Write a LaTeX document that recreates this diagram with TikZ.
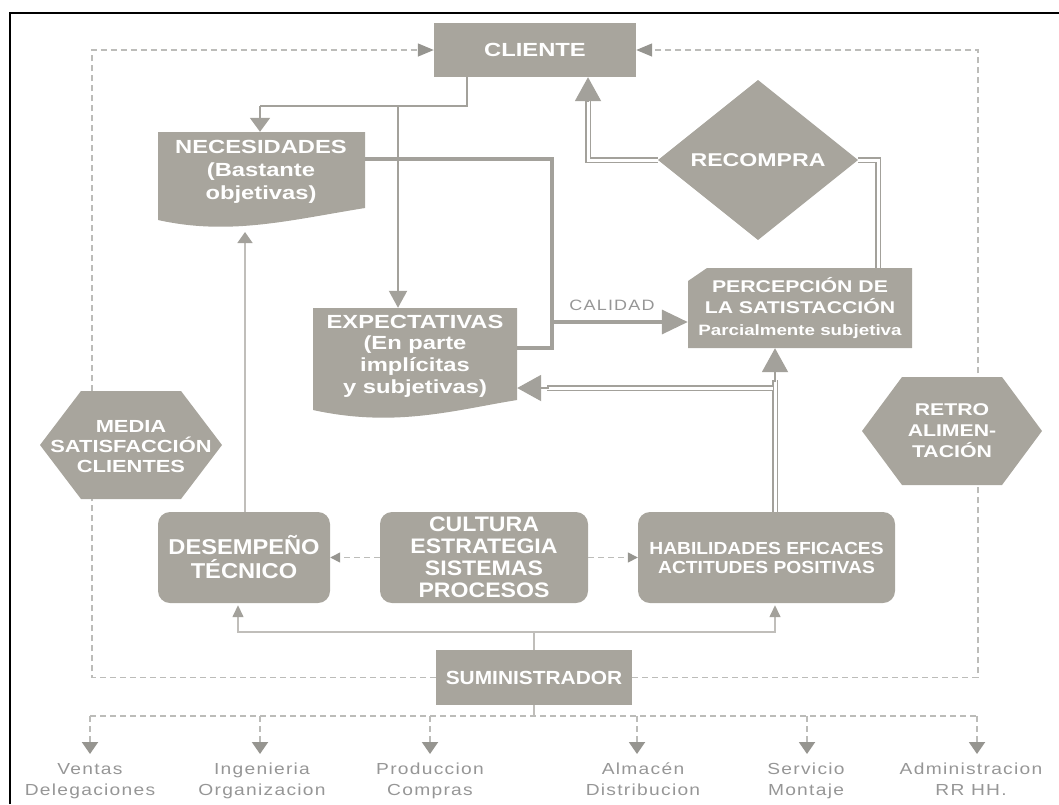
\documentclass[tikz,border=0pt]{standalone}
\usepackage{fontspec}
\setmainfont{Liberation Sans}
\newfontfamily\bfa[FakeStretch=1.25]{Liberation Sans Bold}
\newfontfamily\bfb[FakeStretch=1.1]{Liberation Sans Bold}
\newfontfamily\rga[FakeStretch=1.2,LetterSpace=8]{Liberation Sans}
\usetikzlibrary{arrows.meta,calc}
\definecolor{boxg}{RGB}{168,165,157}
\definecolor{lineg}{RGB}{163,161,155}
\definecolor{liteg}{RGB}{192,190,186}
\definecolor{dashg}{RGB}{188,188,185}
\definecolor{tipg}{RGB}{150,149,144}
\definecolor{lblg}{RGB}{150,150,150}
\newcommand\fs[2]{\fontsize{#1}{#2}\selectfont}
\begin{document}
\begin{tikzpicture}[x=1pt,y=-1pt,
  box/.style={fill=boxg, draw=none, inner sep=0pt, text=white, align=center},
  rbox/.style={box, rounded corners=12pt},
  txt/.style={text=white, align=center, inner sep=0pt},
  conn/.style={draw=lineg, line width=2pt},
  thk/.style={draw=lineg, line width=3.5pt},
  lite/.style={draw=liteg, line width=1.5pt},
  dbl/.style={draw=lineg, line width=1.2pt, double=white, double distance=3pt},
  dsh/.style={draw=dashg, line width=1.4pt, dash pattern=on 6pt off 4pt},
  tipline/.style={draw=lineg, line width=2pt, -{Triangle[width=26pt,length=24pt]}},
  lbl/.style={text=lblg, align=center, inner sep=0pt, font=\rga\fs{16}{21}}
]
\useasboundingbox (0,0) rectangle (1059,804);
% outer frame
\draw[black, line width=1.5pt] (10,804) -- (10,13) -- (1059,13);

% ---------- dashed frame corners ----------
\coordinate (f1) at (92,50);
\coordinate (f2) at (92,677.5);
\coordinate (f3) at (978,677.5);
\coordinate (f4) at (978,50);

% ---------- nodes ----------
\node[box, minimum width=202pt, minimum height=54pt, font=\bfa\fs{19}{22}] (cli) at (535,50) {CLIENTE};

\fill[boxg] (158,132) -- (365,132) -- (365,208) .. controls (290,220) and (230,236) .. (158,220) -- cycle;
\node[minimum width=207pt, minimum height=88pt, inner sep=0pt] (nec) at (261.5,176) {};
\node[txt, font=\bfa\fs{19}{23}] (necT) at (261,172) {NECESIDADES\\(Bastante\\objetivas)};

\fill[boxg] (313,308) -- (517,308) -- (517,400) .. controls (455,410) and (395,428) .. (313,410) -- cycle;
\node[minimum width=204pt, minimum height=92pt, inner sep=0pt] (exp) at (415,354) {};
\node[txt, font=\bfa\fs{19}{21.7}] (expT) at (415,356) {EXPECTATIVAS\\(En parte\\implícitas\\y subjetivas)};

\fill[boxg] (688,281) -- (707,268) -- (912,268) -- (912,348) -- (688,348) -- cycle;
\node[minimum width=224pt, minimum height=80pt, inner sep=0pt] (per) at (800,308) {};
\node[txt, font=\bfa\fs{17}{21.5}] (perT) at (800,308) {PERCEPCIÓN DE\\LA SATISTACCIÓN\\{\fs{15}{21.5}Parcialmente subjetiva}};

\fill[boxg] (658,160) -- (758,80) -- (858,160) -- (758,240) -- cycle;
\coordinate (recw) at (658,160);
\coordinate (rece) at (858,160);
\node[txt, font=\bfa\fs{18.5}{22}] (rec) at (758,160) {RECOMPRA};

\node[rbox, minimum width=172pt, minimum height=91pt, font=\bfb\fs{21.5}{24}] (des) at (244,557.5) {DESEMPEÑO\\TÉCNICO};
\node[rbox, minimum width=208pt, minimum height=91pt, font=\bfb\fs{21}{22}] (cul) at (484,557.5) {CULTURA\\ESTRATEGIA\\SISTEMAS\\PROCESOS};
\node[rbox, minimum width=257pt, minimum height=91pt, font=\bfb\fs{17.5}{19}] (hab) at (766.5,557.5) {HABILIDADES EFICACES\\ACTITUDES POSITIVAS};

\node[box, minimum width=196pt, minimum height=55pt, font=\bfb\fs{19}{22}] (sum) at (534,677.5) {SUMINISTRADOR};

% dashed frame
\draw[dsh, -{Triangle[width=13pt,length=16pt,color=tipg]}] (sum.west) -- (f2) -- (f1) -- (cli.west);
\draw[dsh, -{Triangle[width=13pt,length=16pt,color=tipg]}] (sum.east) -- (f3) -- (f4) -- (cli.east);

% hexagons
\fill[boxg] (40,445) -- (81,391) -- (181,391) -- (222,445) -- (181,499) -- (81,499) -- cycle;
\node[txt, font=\bfa\fs{17.5}{20}] (med) at (131,447) {MEDIA\\SATISFACCIÓN\\CLIENTES};
\fill[boxg] (862,431) -- (902,377) -- (1002,377) -- (1042,431) -- (1002,485) -- (902,485) -- cycle;
\node[txt, font=\bfa\fs{17}{21}] (ret) at (952,431) {RETRO\\ALIMEN-\\TACIÓN};

% ---------- connectors ----------
\coordinate (c1) at (467,106);
\coordinate (c2) at (260,106);
\coordinate (c3) at (398,106);
\draw[conn] (cli.south -| c1) -- (c1) -- (c2);
\draw[conn, -{Triangle[width=20pt,length=14pt]}] (c2) -- (nec.north -| c2);
\draw[conn, -{Triangle[width=18pt,length=17pt]}] (c3) -- (exp.north -| c3);

\coordinate (t1) at (552,159);
\coordinate (t2) at (552,348);
\coordinate (t3) at (552,322);
\draw[thk] (nec.east |- t1) -- (t1) -- (t2) -- (exp.east |- t2);
\draw[thk, -{Triangle[width=24pt,length=26pt]}] (t3) -- (per.west |- t3);
\node[text=lblg, font=\rga\fs{15}{18}] (cal) at (612,305) {CALIDAD};

\coordinate (d1) at (588,160);
\draw[dbl] (recw) -- (d1) -- ($(cli.south -| d1)+(0,23)$);
\draw[tipline] ($(cli.south -| d1)+(0,25)$) -- (cli.south -| d1);
\coordinate (d2) at (878,160);
\draw[dbl] (rece) -- (d2) -- (per.north -| d2);

\coordinate (d3) at (775,388);
\coordinate (d4) at (772.6,388);
\draw[dbl] (hab.north -| d3) -- ($(per.south -| d3)+(0,32)$);
\draw[tipline] ($(per.south -| d3)+(0,34)$) -- (per.south -| d3);
\draw[dbl] (d4) -- ($(exp.east |- d4)+(30,0)$);
\draw[tipline] ($(exp.east |- d4)+(32,0)$) -- (exp.east |- d4);

\coordinate (n1) at (245,232);
\draw[lite, -{Triangle[width=15pt,length=11pt,color=lineg]}] (des.north -| n1) -- (n1);

\draw[dsh, -{Triangle[width=10pt,length=10pt,color=tipg]}] (cul.west) -- (des.east);
\draw[dsh, -{Triangle[width=10pt,length=10pt,color=tipg]}] (cul.east) -- (hab.west);

\coordinate (s1) at (534,632);
\coordinate (s2) at (238,632);
\coordinate (s3) at (775,632);
\draw[lite] (sum.north) -- (s1);
\draw[lite, -{Triangle[width=11pt,length=12pt,color=lineg]}] (s1) -- (s2) -- ($(des.south -| s2)+(0,2)$);
\draw[lite, -{Triangle[width=11pt,length=12pt,color=lineg]}] (s1) -- (s3) -- ($(hab.south -| s3)+(0,2)$);

% ---------- bottom departments ----------
\node[lbl, anchor=north] (l1) at (90,763) {Ventas\\Delegaciones};
\node[lbl, anchor=north] (l2) at (262,763) {Ingenieria\\Organizacion};
\node[lbl, anchor=north] (l3) at (430,763) {Produccion\\Compras};
\node[lbl, anchor=north] (l4) at (643,763) {Almacén\\Distribucion};
\node[lbl, anchor=north] (l5) at (806,763) {Servicio\\Montaje};
\node[lbl, anchor=north] (l6) at (971,763) {Administracion\\RR HH.};

\coordinate (b0) at (534,716);
\coordinate (b1) at (90,716);
\coordinate (b2) at (260,716);
\coordinate (b3) at (430,716);
\coordinate (b4) at (637,716);
\coordinate (b5) at (807,716);
\coordinate (b6) at (977,716);
\draw[lite] (sum.south) -- (b0);
\draw[dsh] (b1) -- (b6);
\foreach \b/\l in {b1/l1,b2/l2,b3/l3,b4/l4,b5/l5,b6/l6}{
  \draw[dsh, line width=2pt, -{Triangle[width=16pt,length=12pt,color=tipg]}, shorten >=9pt] (\b) -- (\l.north -| \b);
}
\end{tikzpicture}
\end{document}
